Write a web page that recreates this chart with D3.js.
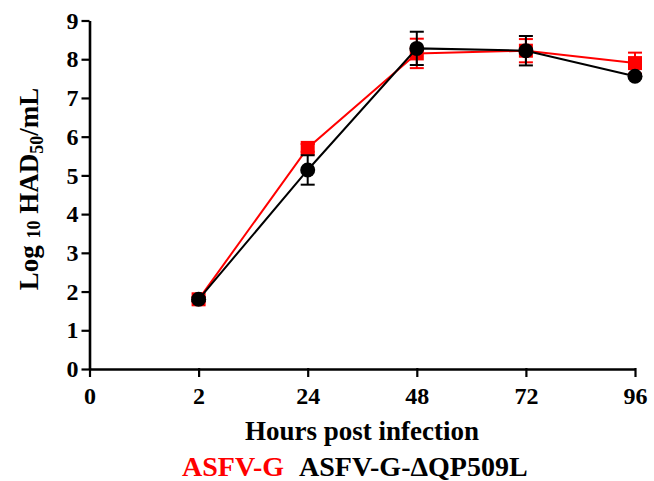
<!DOCTYPE html>
<html>
<head>
<meta charset="utf-8">
<script src="https://cdn.jsdelivr.net/npm/d3@7"></script>
<style>
  body { margin: 0; background: #fff; }
  text { font-family: "Liberation Serif", "Times New Roman", serif; font-weight: bold; }
</style>
</head>
<body>
<svg id="chart" width="654" height="481"></svg>
<script>
const hours = ["0", "2", "24", "48", "72", "96"];
const sampleHours = ["2", "24", "48", "72", "96"];
const parentMean = [1.8, 5.71, 8.15, 8.22, 7.9];
const parentErr = [0.05, 0.1, 0.38, 0.3, 0.27];
const mutantMean = [1.8, 5.14, 8.28, 8.22, 7.56];
const mutantErr = [0.05, 0.38, 0.43, 0.38, 0.05];
const yTicks = [0, 1, 2, 3, 4, 5, 6, 7, 8, 9];

const svg = d3.select("#chart");

const x = d3.scalePoint().domain(hours).range([89.5, 635]);
const y = d3.scaleLinear().domain([0, 9]).range([369, 20.5]);

// axes
const xAxis = svg.append("g")
    .attr("transform", "translate(0," + y(0) + ")")
    .call(d3.axisBottom(x).tickSize(8).tickSizeOuter(0).tickPadding(10));
const yAxis = svg.append("g")
    .attr("transform", "translate(" + x("0") + ",0)")
    .call(d3.axisLeft(y).tickValues(yTicks).tickSize(8).tickSizeOuter(0).tickPadding(3));

[xAxis, yAxis].forEach(g => {
    g.select(".domain").attr("stroke", "#000").attr("stroke-width", 2.6);
    g.selectAll(".tick line").attr("stroke", "#000").attr("stroke-width", 2.2);
    g.selectAll(".tick text")
        .attr("fill", "#000")
        .style("font-size", "24px")
        .style("font-family", "Liberation Serif, serif")
        .style("font-weight", "bold");
});
xAxis.selectAll(".tick line").attr("y1", -1);

const line = d3.line()
    .x((d, i) => x(sampleHours[i]))
    .y(d => y(d));

const drawSeries = (means, errs, color, shape) => {
    const g = svg.append("g");
    g.append("path")
        .datum(means)
        .attr("fill", "none")
        .attr("stroke", color)
        .attr("stroke-width", 2)
        .attr("d", line);

    const bars = g.selectAll(".err")
        .data(means)
        .enter()
        .append("g");
    bars.append("line")
        .attr("x1", (d, i) => x(sampleHours[i]))
        .attr("x2", (d, i) => x(sampleHours[i]))
        .attr("y1", (d, i) => y(d + errs[i]))
        .attr("y2", (d, i) => y(d - errs[i]))
        .attr("stroke", color).attr("stroke-width", 2);
    [1, -1].forEach(s => {
        bars.append("line")
            .attr("x1", (d, i) => x(sampleHours[i]) - 7)
            .attr("x2", (d, i) => x(sampleHours[i]) + 7)
            .attr("y1", (d, i) => y(d + s * errs[i]))
            .attr("y2", (d, i) => y(d + s * errs[i]))
            .attr("stroke", color).attr("stroke-width", 2);
    });

    if (shape === "square") {
        g.selectAll(".pt").data(means).enter()
            .append("rect")
            .attr("x", (d, i) => x(sampleHours[i]) - 7)
            .attr("y", d => y(d) - 7)
            .attr("width", 14)
            .attr("height", 14)
            .attr("fill", color);
    } else {
        g.selectAll(".pt").data(means).enter()
            .append("circle")
            .attr("cx", (d, i) => x(sampleHours[i]))
            .attr("cy", d => y(d))
            .attr("r", 7.5)
            .attr("fill", color);
    }
};

drawSeries(parentMean, parentErr, "#ff0000", "square");
drawSeries(mutantMean, mutantErr, "#000000", "circle");

// axis titles
svg.append("text")
    .attr("x", 362)
    .attr("y", 440)
    .attr("text-anchor", "middle")
    .style("font-size", "27px")
    .text("Hours post infection");

const yt = svg.append("text")
    .attr("transform", "translate(38,189) rotate(-90)")
    .attr("text-anchor", "middle")
    .style("font-size", "27px");
yt.append("tspan").text("Log ");
yt.append("tspan").attr("font-size", "18px").attr("dy", 2).text("10");
yt.append("tspan").attr("dy", -2).text(" HAD");
yt.append("tspan").attr("font-size", "18px").attr("dy", 5).text("50");
yt.append("tspan").attr("dy", -5).text("/mL");

// legend
svg.append("text")
    .attr("x", 182)
    .attr("y", 476)
    .attr("fill", "#ff0000")
    .style("font-size", "28px")
    .text("ASFV-G");
svg.append("text")
    .attr("x", 299)
    .attr("y", 476)
    .attr("fill", "#000")
    .style("font-size", "28px")
    .text("ASFV-G-ΔQP509L");
</script>
</body>
</html>
